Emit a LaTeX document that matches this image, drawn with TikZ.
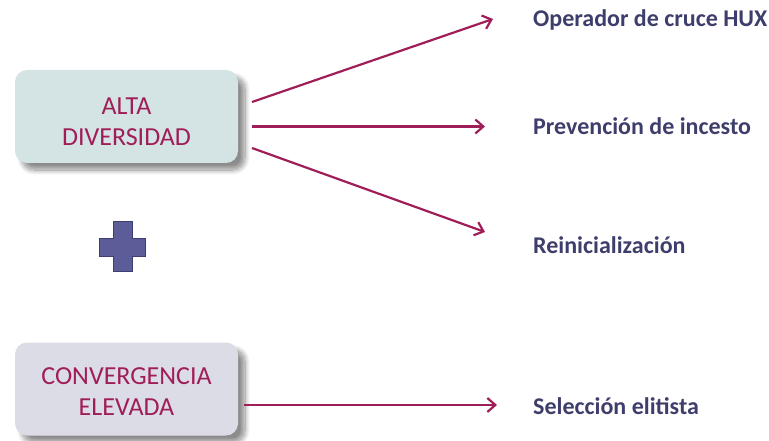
\documentclass[tikz,border=0pt]{standalone}
\usepackage{fontspec}
\setmainfont{Carlito}
\usetikzlibrary{arrows.meta,shadows.blur}
\definecolor{crimson}{HTML}{A01E58}
\definecolor{navy}{HTML}{3E3E6C}
\definecolor{tealbox}{HTML}{D4E3E3}
\definecolor{lilacbox}{HTML}{DCDCE6}
\definecolor{plusfill}{HTML}{5C5C98}
\definecolor{plusedge}{HTML}{3E3E72}
\tikzset{
  stateblock/.style={rounded corners=12pt, minimum width=223pt, minimum height=93pt,
    blur shadow={shadow xshift=7pt, shadow yshift=-7pt, shadow blur steps=12,
      shadow blur extra rounding=4pt, shadow blur radius=5pt, shadow opacity=45}},
  blocktext/.style={align=center, text=crimson, yshift=-5pt,
    font=\fontsize{26}{31}\selectfont},
  optlabel/.style={anchor=west, text=navy, font=\fontsize{24}{28}\selectfont\bfseries, inner sep=0pt},
  link/.style={draw=crimson, line width=2.2pt,
    -{Straight Barb[length=8pt, width=14pt, line width=2.2pt]}}
}
\begin{document}
\begin{tikzpicture}[x=1pt, y=-1pt]
\useasboundingbox (0,0) rectangle (769,441);
% state blocks
\node[stateblock, fill=tealbox,
  label={[blocktext]center:{ALTA\\DIVERSIDAD}}] (alta) at (126.5,116.5) {};
\node[stateblock, fill=lilacbox,
  label={[blocktext, yshift=2pt]center:{CONVERGENCIA\\ELEVADA}}] (conv) at (126.5,389) {};
% plus sign
\filldraw[fill=plusfill, draw=plusedge, line width=1pt]
  (113,222) -- (132,222) -- (132,238) -- (145,238) -- (145,256) -- (132,256)
  -- (132,271) -- (113,271) -- (113,256) -- (99,256) -- (99,238) -- (113,238) -- cycle;
% option labels
\node[optlabel] (hux) at (533,20) {Operador de cruce HUX};
\node[optlabel] (inc) at (533,126) {Prevención de incesto};
\node[optlabel] (rei) at (533,245) {Reinicialización};
\node[optlabel] (eli) at (533,406) {Selección elitista};
% end points of the connectors
\coordinate (a1) at (252,102);
\coordinate (a2) at (252,126.5);
\coordinate (a3) at (252,148);
\coordinate (c1) at (244,405);
\coordinate (t1) at (493,19);
\coordinate (t2) at (485,126.5);
\coordinate (t3) at (485,232);
\coordinate (t4) at (497,405);
\draw[link] (a1) -- (t1);
\draw[link] (a2) -- (t2);
\draw[link] (a3) -- (t3);
\draw[link] (c1) -- (t4);
\end{tikzpicture}
\end{document}
